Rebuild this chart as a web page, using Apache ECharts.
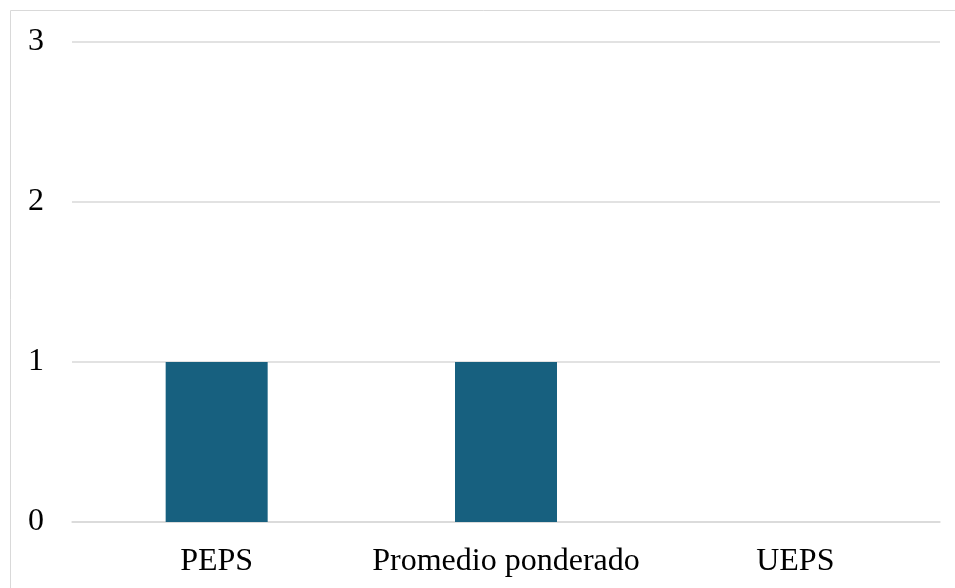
<!DOCTYPE html>
<html>
<head>
<meta charset="utf-8">
<script src="https://cdn.jsdelivr.net/npm/echarts@6/dist/echarts.min.js"></script>
<style>
  html, body { margin: 0; padding: 0; background: #fff; }
  #chart { width: 955px; height: 588px; }
</style>
</head>
<body>
<div id="chart"></div>
<script>
// Datos del gráfico
const categorias = ['PEPS', 'Promedio ponderado', 'UEPS'];
const valores = [1, 1, 0];

document.addEventListener('DOMContentLoaded', () => {
    var chart = echarts.init(document.getElementById('chart'));

    const option = {
        animation: false,
        textStyle: { fontFamily: 'Liberation Serif' },
        // Marco exterior gris claro
        graphic: [{
            type: 'rect',
            shape: { x: 10.5, y: 10.5, width: 1200, height: 1200 },
            style: { fill: 'none', stroke: '#d9d9d9', lineWidth: 1 },
            silent: true
        }],
        grid: { left: 72, right: 15, top: 42, bottom: 66 },
        xAxis: {
            type: 'category',
            data: categorias,
            axisTick: { show: false },
            axisLine: { lineStyle: { color: '#d9d9d9', width: 1.5 } },
            axisLabel: { color: '#000', fontSize: 32, fontFamily: 'Liberation Serif', margin: 24, interval: 0 }
        },
        yAxis: {
            type: 'value',
            min: 0,
            max: 3,
            interval: 1,
            axisLine: { show: false },
            axisTick: { show: false },
            splitLine: { lineStyle: { color: '#d9d9d9', width: 1.5 } },
            axisLabel: { color: '#000', fontSize: 32, fontFamily: 'Liberation Serif', margin: 28 }
        },
        series: [{
            type: 'bar',
            data: valores,
            barWidth: 102,
            itemStyle: { color: '#17607f' }
        }]
    };

    chart.setOption(option);
    window.addEventListener('resize', () => chart.resize());
});
</script>
</body>
</html>
